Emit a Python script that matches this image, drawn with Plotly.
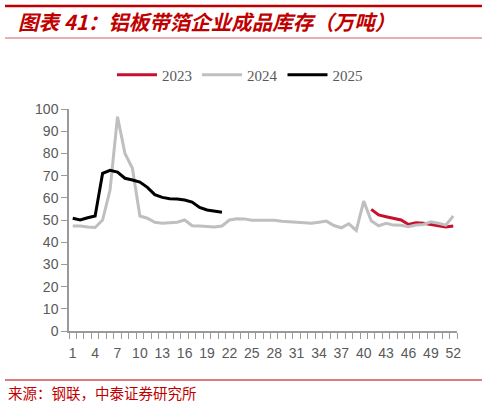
import plotly.graph_objects as go

weeks = list(range(1, 53))

# 2023 values (only weeks 41-52 shown)
weeks_2023 = list(range(41, 53))
vals_2023 = [54.8, 52.3, 51.5, 50.8, 50.0, 48.0, 48.8, 48.5, 48.0, 47.4, 46.8, 47.3]

# 2024 values (weeks 1-52)
vals_2024 = [47.3, 47.3, 46.8, 46.6, 50.0, 63.5, 96.5, 80.0, 73.3, 51.8,
             50.8, 49.0, 48.5, 48.7, 49.0, 50.0, 47.4, 47.3, 47.0, 46.8,
             47.3, 50.0, 50.6, 50.5, 49.9, 49.8, 50.0, 49.9, 49.4, 49.1,
             48.8, 48.5, 48.5, 49.0, 49.5, 47.5, 46.5, 48.3, 45.3, 58.5,
             49.7, 47.4, 48.5, 47.7, 47.6, 47.0, 47.7, 48.0, 49.2, 48.5,
             47.7, 51.8]

# 2025 values (weeks 1-21)
weeks_2025 = list(range(1, 22))
vals_2025 = [50.8, 50.0, 51.0, 51.8, 71.0, 72.4, 71.6, 68.8, 68.0, 67.1,
             64.7, 61.4, 60.2, 59.6, 59.5, 59.0, 58.1, 55.7, 54.5, 53.9, 53.5]

x_tick_vals = list(range(1, 53, 3))
x_tick_text = [str(v) for v in x_tick_vals]

title_text = "<i><b>图表 41：铝板带箔企业成品库存（万吨）</b></i>"
source_text = "来源：钢联，中泰证券研究所"

W, H = 487, 404
L, R, T, B = 69, 30, 109, 73
PW = W - L - R
PH = H - T - B


def px(xp):
    return (xp - L) / PW


def py(yp):
    return (H - B - yp) / PH


fig = go.Figure()
fig.add_trace(go.Scatter(x=weeks_2023, y=vals_2023, mode="lines", name="2023",
                         line=dict(color="#C8102E", width=3)))
fig.add_trace(go.Scatter(x=weeks, y=vals_2024, mode="lines", name="2024",
                         line=dict(color="#BFBFBF", width=3)))
fig.add_trace(go.Scatter(x=weeks_2025, y=vals_2025, mode="lines", name="2025",
                         line=dict(color="#000000", width=3)))

axis_color = "#9A9A9A"
tick_font = dict(family="Liberation Sans, Arial, sans-serif", size=14, color="#595959")

fig.update_layout(
    width=W, height=H,
    margin=dict(l=L, r=R, t=T, b=B),
    paper_bgcolor="white", plot_bgcolor="white",
    showlegend=True,
    legend=dict(orientation="h", x=px(240), xanchor="center", y=py(75), yanchor="middle",
                font=dict(family="Liberation Serif, Times New Roman, serif", size=15, color="#595959"),
                bgcolor="rgba(0,0,0,0)", itemwidth=40, tracegroupgap=0),
    xaxis=dict(range=[0.5, 52.5], tickmode="array", tickvals=x_tick_vals, ticktext=x_tick_text,
               ticks="", showgrid=False, zeroline=False, showline=True,
               linecolor=axis_color, linewidth=1.5, tickfont=tick_font,
               ticklabelstandoff=8,
               minor=dict(ticks="outside", ticklen=6, tickcolor=axis_color, tickwidth=1,
                          tickmode="linear", tick0=0.5, dtick=1, showgrid=False)),
    yaxis=dict(range=[0, 100], dtick=10, tick0=0, ticks="outside", ticklen=6,
               tickcolor=axis_color, tickwidth=1, showgrid=False, zeroline=False,
               showline=True, linecolor=axis_color, linewidth=1.5, tickfont=tick_font),
    shapes=[
        dict(type="line", xref="paper", yref="paper", x0=px(5), x1=px(482), y0=py(6), y1=py(6),
             line=dict(color="#C00000", width=2.5)),
        dict(type="line", xref="paper", yref="paper", x0=px(5), x1=px(482), y0=py(38), y1=py(38),
             line=dict(color="#D06060", width=1)),
        dict(type="line", xref="paper", yref="paper", x0=px(5), x1=px(482), y0=py(380), y1=py(380),
             line=dict(color="#D05050", width=1.5)),
    ],
    annotations=[
        dict(text=title_text, xref="paper", yref="paper", x=px(16), y=py(21),
             xanchor="left", yanchor="middle", showarrow=False,
             font=dict(family="Noto Sans CJK SC", size=20.5, color="#C00000")),
        dict(text=source_text, xref="paper", yref="paper", x=px(6), y=py(392),
             xanchor="left", yanchor="middle", showarrow=False,
             font=dict(family="Noto Sans CJK SC", size=14.5, color="#C00000")),
    ],
)

fig.write_html("out.html", config={"displayModeBar": False},
               post_script="document.body.style.margin='0';document.body.style.padding='0';")
